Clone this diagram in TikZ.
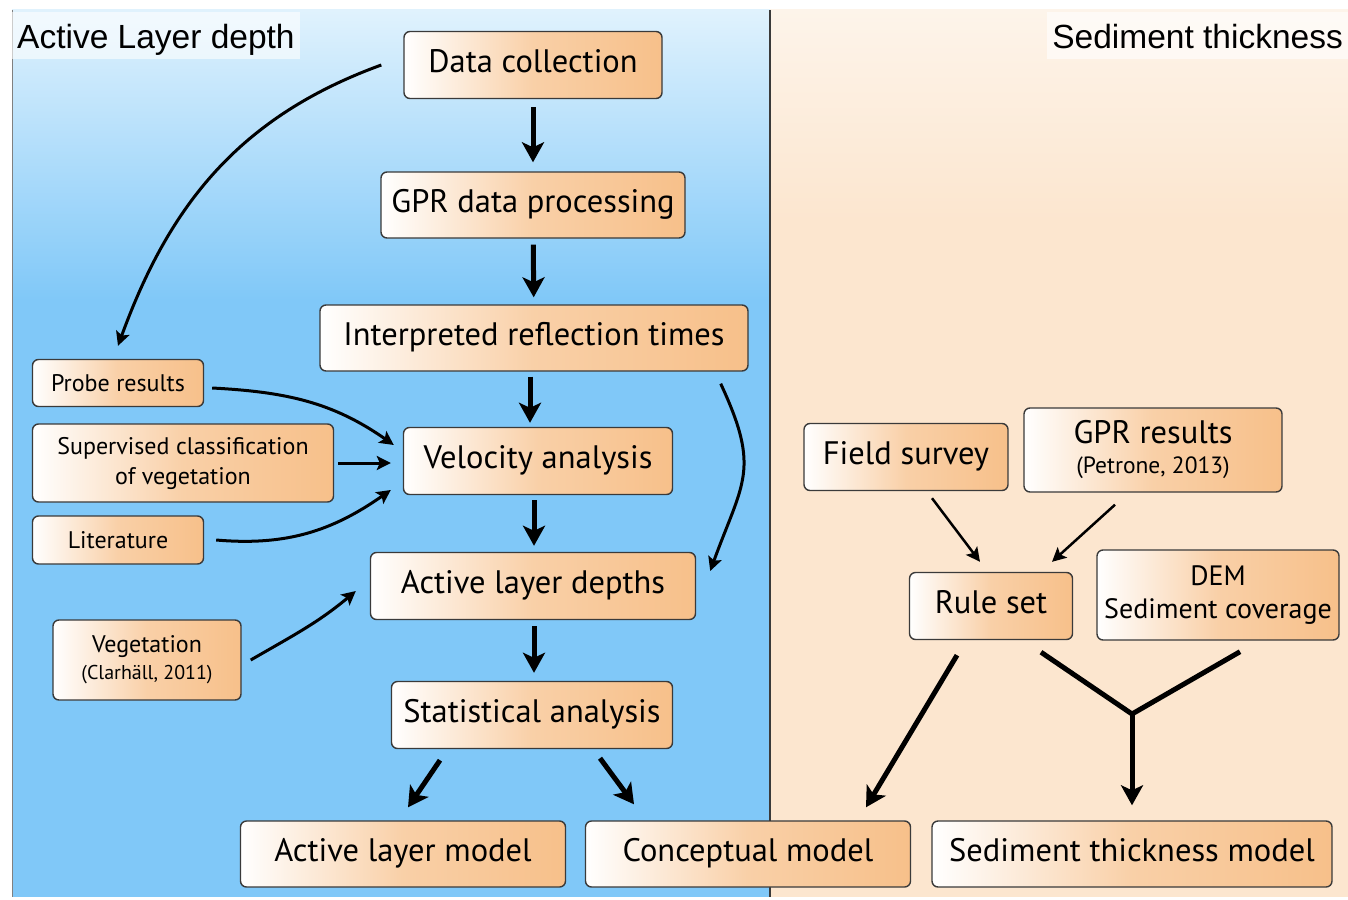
\documentclass[tikz,border=0pt]{standalone}
\usepackage{fontspec}
\setmainfont{PT Sans}
\newfontfamily\titlefont{Liberation Sans}
\usepackage{tikz}
\usetikzlibrary{calc,arrows.meta}
\definecolor{boxorange}{HTML}{F7C08A}
\definecolor{boxline}{HTML}{3A3A3A}
\definecolor{skytop}{HTML}{E0F2FD}
\definecolor{sky}{HTML}{80C8F8}
\definecolor{sandtop}{HTML}{FDF4EA}
\definecolor{sand}{HTML}{FCE6CF}
\tikzset{
  box/.style={draw=boxline, line width=1.4pt, rounded corners=6pt,
    left color=white, right color=boxorange, middle color=boxorange!75!white,
    align=center, inner sep=0pt, font=\fontsize{32.5}{36}\selectfont},
  oneline/.style={box, text height=22pt, text depth=8pt},
  smallbox/.style={box, font=\fontsize{24}{30}\selectfont},
  titlebox/.style={fill=white, fill opacity=0.6, text opacity=1, inner xsep=5pt,
    minimum height=47pt, font=\titlefont\fontsize{33.5}{38}\selectfont},
  bigarrow/.style={line width=5pt, -{Stealth[length=20pt,width=22pt,inset=5pt]}},
  thinarrow/.style={line width=3pt, -{Stealth[length=14pt,width=14pt,inset=3pt]}},
}
\newcommand{\refnote}[2][20]{{\fontsize{#1}{#1}\selectfont #2}}

\begin{document}
\begin{tikzpicture}[x=1pt,y=1pt]
\useasboundingbox (0,0) rectangle (1348,-899);
\fill[sky] (12,-10) rectangle (770,-897);
\shade[top color=skytop, bottom color=sky] (12,-10) rectangle (770,-300);
\fill[sand] (770,-10) rectangle (1348,-897);
\shade[top color=sandtop, bottom color=sand] (770,-10) rectangle (1348,-220);
\draw[gray, line width=1pt] (12,-10) -- (12,-897);
\draw[boxline, line width=1.5pt] (770,-10) -- (770,-897);

\node[titlebox, anchor=north west, text depth=0pt, text height=26pt] (ltitle) at (12,-12) {Active Layer depth};
\node[titlebox, anchor=north east, text depth=0pt, text height=26pt] (rtitle) at (1348,-12) {Sediment thickness};

\node[oneline, minimum width=258pt, minimum height=67pt] (dc) at (533,-65) {Data collection};
\node[oneline, minimum width=304pt, minimum height=66pt] (gpr) at (533,-205) {GPR data processing};
\node[oneline, minimum width=428pt, minimum height=66pt] (interp) at (534,-338) {Interpreted reflection times};
\node[oneline, minimum width=269pt, minimum height=67pt] (vel) at (538,-461) {Velocity analysis};
\node[oneline, minimum width=325pt, minimum height=67pt] (ald) at (533,-586) {Active layer depths};
\node[oneline, minimum width=281pt, minimum height=67pt] (stat) at (532,-715) {Statistical analysis};
\node[oneline, minimum width=325pt, minimum height=66pt] (alm) at (403,-854) {Active layer model};
\node[oneline, minimum width=325pt, minimum height=66pt] (cm) at (748,-854) {Conceptual model};
\node[oneline, minimum width=400pt, minimum height=66pt] (stm) at (1132,-854) {Sediment thickness model};

\node[smallbox, minimum width=171pt, minimum height=47pt] (probe) at (118,-383) {Probe results};
\node[smallbox, minimum width=301pt, minimum height=78pt] (sup) at (183,-463) {Supervised classification\\of vegetation};
\node[smallbox, minimum width=171pt, minimum height=48pt] (lit) at (118,-540) {Literature};
\node[smallbox, minimum width=188pt, minimum height=80pt] (veg) at (147,-660) {Vegetation\\[-3pt]\refnote{(Clarhäll, 2011)}};

\node[oneline, minimum width=204pt, minimum height=67pt] (field) at (906,-457) {Field survey};
\node[box, minimum width=258pt, minimum height=84pt] (gprres) at (1153,-450) {GPR results\\[-6pt]\refnote[23.5]{(Petrone, 2013)}};
\node[oneline, minimum width=163pt, minimum height=67pt] (rule) at (991,-606) {Rule set};
\node[box, minimum width=242pt, minimum height=90pt, font=\fontsize{28}{33}\selectfont] (dem) at (1218,-595) {DEM\\Sediment coverage};
\coordinate (join) at (1132,-714);

\draw[bigarrow, shorten <=8pt, shorten >=9pt] (dc) -- (gpr);
\draw[bigarrow, shorten <=6pt, shorten >=7pt] (gpr) -- (interp);
\draw[bigarrow, shorten <=5pt, shorten >=4pt] ([xshift=-4pt]interp.south) -- ([xshift=-8pt]vel.north);
\draw[bigarrow, shorten <=5pt, shorten >=6pt] ([xshift=-4pt]vel.south) -- ([xshift=1pt]ald.north);
\draw[bigarrow, shorten <=6pt, shorten >=8pt] ([xshift=1pt]ald.south) -- ([xshift=2pt]stat.north);
\draw[bigarrow] ([shift={(-92,-11)}]stat.south) -- ([shift={(5,13)}]alm.north);
\draw[bigarrow] ([shift={(68,-9)}]stat.south) -- ([shift={(-114,16)}]cm.north);
\draw[bigarrow] ([shift={(-34,-15)}]rule.south) -- ([shift={(118,13)}]cm.north);
\draw[line width=5pt, line join=miter] ([shift={(50,-12)}]rule.south) -- (join) -- ([shift={(22,-11)}]dem.south);
\draw[bigarrow] (join) -- ([yshift=15pt]stm.north);

\draw[thinarrow] ([xshift=-22pt]dc.west) to[out=200,in=70] ([yshift=13pt]probe.north);
\draw[thinarrow] ([shift={(-28,-12)}]interp.south east) to[out=-65,in=70,looseness=1.3] ([shift={(14,15)}]ald.east);
\draw[thinarrow] ([shift={(8,-5)}]probe.east) to[out=-3,in=145] ([shift={(-9,16)}]vel.west);
\draw[thinarrow] ([xshift=4pt]sup.east) -- ([xshift=-12pt]sup.east -| vel.west);
\draw[thinarrow] ([xshift=12pt]lit.east) to[out=-5,in=215] ([shift={(-12,-29)}]vel.west);
\draw[thinarrow] ([xshift=9pt]veg.east) to[out=30,in=220] ([shift={(-14,-5)}]ald.west);
\draw[thinarrow, line width=2.5pt] ([shift={(26,-7)}]field.south) -- ([shift={(-11,10)}]rule.north);
\draw[thinarrow, line width=2.5pt] ([shift={(-38,-12)}]gprres.south) -- ([shift={(61,10)}]rule.north);
\end{tikzpicture}
\end{document}
